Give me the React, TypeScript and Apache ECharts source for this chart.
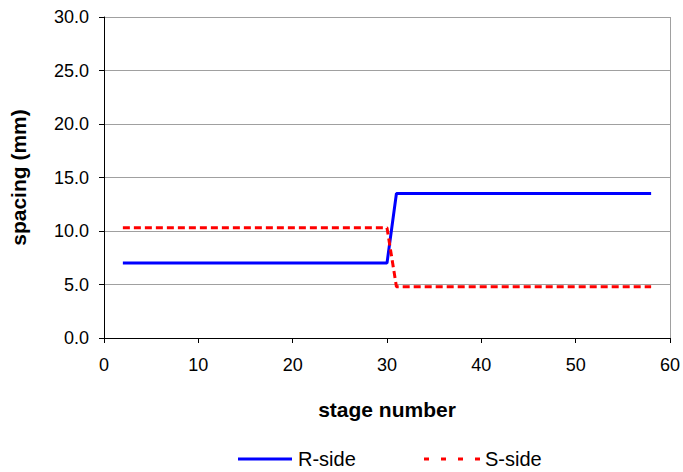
import React, { useEffect, useRef } from "react";
import * as echarts from "echarts";

const rStages = [2, 30, 31, 58];
const rValues = [7.0, 7.0, 13.5, 13.5];
const sStages = [2, 30, 31, 58];
const sValues = [10.3, 10.3, 4.8, 4.8];
const seriesNames = ["R-side", "S-side"];

const FONT = "'Liberation Sans', Arial, sans-serif";

export default function App() {
  const ref = useRef<HTMLDivElement>(null);
  useEffect(() => {
    if (!ref.current) return;
    const chart = echarts.init(ref.current, null, { renderer: "svg" });
    const legendY = 459;
    chart.setOption({
      animation: false,
      backgroundColor: "#ffffff",
      textStyle: { fontFamily: FONT },
      grid: { left: 103, right: 11, top: 17, bottom: 134, containLabel: false },
      xAxis: {
        type: "value",
        min: 0,
        max: 60,
        interval: 10,
        name: "stage number",
        nameLocation: "middle",
        nameGap: 61,
        nameTextStyle: { fontFamily: FONT, fontSize: 21, fontWeight: "bold", color: "#000" },
        axisLine: { show: true, lineStyle: { color: "#000", width: 1 } },
        axisTick: { show: true, length: 5, lineStyle: { color: "#000" } },
        axisLabel: { fontFamily: FONT, fontSize: 18, color: "#000", margin: 18 },
        splitLine: { show: false },
      },
      yAxis: {
        type: "value",
        min: 0,
        max: 30,
        interval: 5,
        name: "spacing (mm)",
        nameLocation: "middle",
        nameGap: 75,
        nameRotate: 90,
        nameTextStyle: { fontFamily: FONT, fontSize: 21, fontWeight: "bold", color: "#000" },
        axisLine: { show: true, lineStyle: { color: "#000", width: 1 } },
        axisTick: { show: true, length: 5, lineStyle: { color: "#000" } },
        axisLabel: {
          fontFamily: FONT,
          fontSize: 18,
          color: "#000",
          margin: 15,
          formatter: (v: number) => v.toFixed(1),
        },
        splitLine: { show: true, lineStyle: { color: "#a0a0a0", width: 1 } },
      },
      graphic: [
        {
          type: "line",
          shape: { x1: 238, y1: legendY, x2: 292, y2: legendY },
          style: { stroke: "#0000ff", lineWidth: 3 },
        },
        {
          type: "text",
          x: 298,
          y: legendY,
          style: { text: seriesNames[0], fill: "#000", font: `20px ${FONT}`, verticalAlign: "middle" },
        },
        {
          type: "line",
          shape: { x1: 424, y1: legendY, x2: 481, y2: legendY },
          style: { stroke: "#ff0000", lineWidth: 3, lineDash: [5, 12] },
        },
        {
          type: "text",
          x: 485,
          y: legendY,
          style: { text: seriesNames[1], fill: "#000", font: `20px ${FONT}`, verticalAlign: "middle" },
        },
      ],
      series: [
        {
          name: seriesNames[0],
          type: "line",
          symbol: "none",
          data: rStages.map((s, i) => [s, rValues[i]]),
          lineStyle: { color: "#0000ff", width: 3, type: "solid" },
          itemStyle: { color: "#0000ff" },
        },
        {
          name: seriesNames[1],
          type: "line",
          symbol: "none",
          data: sStages.map((s, i) => [s, sValues[i]]),
          lineStyle: { color: "#ff0000", width: 3, type: [7, 4] },
          itemStyle: { color: "#ff0000" },
        },
        {
          type: "line",
          silent: true,
          data: [],
          markLine: {
            silent: true,
            symbol: "none",
            label: { show: false },
            lineStyle: { color: "#a0a0a0", width: 1, type: "solid" },
            data: [{ xAxis: 60 }],
          },
        },
      ],
    });
    return () => chart.dispose();
  }, []);
  return <div ref={ref} style={{ width: 683, height: 472, position: "absolute", left: 0, top: 0 }} />;
}
